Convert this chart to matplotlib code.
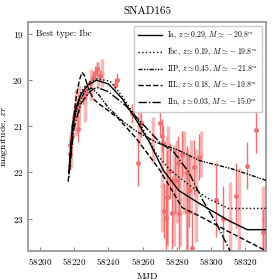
import numpy as np
import matplotlib
matplotlib.use('Agg')
import matplotlib.pyplot as plt

plt.rcParams['font.family'] = 'serif'
plt.rcParams['font.serif'] = ['cmr10', 'DejaVu Serif']
plt.rcParams['mathtext.fontset'] = 'cm'
plt.rcParams['axes.formatter.use_mathtext'] = True

# observations (thin bars with markers)
obs_t = [58217.5, 58217.8, 58218.6, 58219.2, 58220.0, 58221.5, 58222.0, 58223.0, 58225.0,
         58227.0, 58229.0, 58231.0, 58232.0, 58233.5, 58235.0, 58244.0, 58245.0, 58254.0,
         58257.0, 58259.0, 58270.0, 58271.0, 58272.0, 58272.5, 58273.5, 58274.0, 58276.0,
         58277.0, 58279.0, 58280.5, 58281.0, 58283.0, 58285.6, 58286.0, 58287.0, 58289.0,
         58290.0, 58292.6, 58303.0, 58306.6, 58314.7, 58321.0, 58326.0, 58330.0]
obs_m = [21.41, 21.60, 21.20, 20.98, 20.80, 20.65, 21.05, 20.50, 20.37,
         20.28, 20.07, 19.93, 19.85, 19.75, 19.90, 20.10, 20.00, 20.72,
         21.80, 20.93, 20.93, 21.20, 21.37, 22.83, 22.98, 22.54, 21.96,
         22.87, 22.17, 21.80, 22.87, 21.59, 22.02, 22.83, 22.39, 23.63,
         21.89, 21.66, 22.60, 23.00, 22.50, 21.85, 21.07, 23.30]
obs_e = [0.20, 0.35, 0.20, 0.25, 0.20, 0.15, 0.30, 0.20, 0.15,
         0.15, 0.10, 0.12, 0.15, 0.15, 0.12, 0.12, 0.15, 0.20,
         0.50, 0.30, 0.30, 0.35, 0.40, 0.60, 0.70, 1.00, 0.60,
         0.80, 0.70, 0.60, 0.80, 0.50, 0.60, 0.90, 0.80, 0.80,
         0.60, 0.50, 0.80, 0.70, 0.70, 0.50, 0.50, 0.50]

# observations (thick pale bars)
obs2_t = [58218, 58221, 58223, 58226, 58230, 58234, 58236, 58258, 58266, 58271, 58274,
          58275, 58278, 58280, 58282, 58284, 58286, 58288, 58291, 58294, 58311, 58316, 58330]
obs2_m = [21.5, 20.7, 20.6, 20.5, 20.1, 19.9, 19.85, 21.0, 21.3, 22.3, 22.4,
          21.8, 22.5, 22.2, 22.6, 22.0, 22.6, 22.1, 22.5, 21.6, 23.0, 22.8, 23.0]
obs2_e = [0.4, 0.5, 0.5, 0.4, 0.35, 0.3, 0.3, 0.4, 0.5, 1.0, 1.2,
          0.8, 1.1, 0.9, 1.0, 0.9, 1.1, 0.8, 1.0, 0.5, 0.8, 0.9, 0.7]

# model curves
Ia_t = [58217, 58219, 58221, 58224, 58228, 58233, 58240, 58248, 58256, 58264, 58272, 58281, 58293, 58310, 58321, 58332]
Ia_m = [21.9, 21.0, 20.6, 20.3, 20.1, 20.0, 20.08, 20.4, 20.85, 21.35, 21.95, 22.39, 22.67, 23.04, 23.24, 23.24]

Ibc_t = [58217, 58219, 58221, 58224, 58228, 58233, 58241, 58248, 58258, 58268, 58276, 58286, 58297, 58310, 58332]
Ibc_m = [22.1, 21.1, 20.6, 20.25, 20.05, 19.97, 20.02, 20.35, 20.91, 21.6, 21.95, 22.24, 22.54, 22.78, 22.78]

IIP_t = [58217, 58219, 58222, 58226, 58230, 58234, 58240, 58248, 58256, 58268, 58281, 58293, 58312, 58332]
IIP_m = [22.0, 21.0, 20.55, 20.25, 20.17, 20.3, 20.6, 20.88, 21.1, 21.35, 21.52, 21.74, 21.92, 22.17]

IIL_t = [58216.5, 58219, 58221, 58223, 58224.5, 58226, 58228, 58231, 58234, 58245, 58256, 58270, 58283, 58296, 58309, 58332]
IIL_m = [22.2, 21.0, 20.4, 20.0, 19.83, 19.9, 20.15, 20.4, 20.5, 20.8, 21.25, 21.95, 22.76, 23.0, 23.26, 23.7]

IIn_t = [58217, 58220, 58224, 58229, 58233, 58240, 58250, 58260, 58270, 58278, 58287, 58295, 58303, 58311]
IIn_m = [22.0, 21.0, 20.5, 20.25, 20.15, 20.25, 20.55, 20.95, 21.35, 21.55, 22.0, 22.6, 23.1, 23.7]

labels = [r'Ia, $z\simeq0.29$, $M\simeq-20.8^m$',
          r'Ibc, $z\simeq0.19$, $M\simeq-19.8^m$',
          r'IIP, $z\simeq0.45$, $M\simeq-21.8^m$',
          r'IIL, $z\simeq0.18$, $M\simeq-19.8^m$',
          r'IIn, $z\simeq0.03$, $M\simeq-15.0^m$']

fig = plt.figure(figsize=(2.8, 2.8), dpi=100)
ax = fig.add_axes([0.1, 0.104, 0.85, 0.817])

ax.errorbar(obs2_t, obs2_m, yerr=obs2_e, fmt='o', ms=2, color='#f4a6a6', ecolor='#f4a6a6',
            elinewidth=2.5, alpha=0.8, zorder=1)
ax.errorbar(obs_t, obs_m, yerr=obs_e, fmt='o', ms=2.5, color='#ef7070', ecolor='#ef7070',
            elinewidth=1, zorder=2)

ax.plot(Ia_t, Ia_m, '-', color='k', lw=1, label=labels[0], zorder=3)
ax.plot(Ibc_t, Ibc_m, ':', color='k', lw=1, label=labels[1], zorder=3)
ax.plot(IIP_t, IIP_m, color='k', lw=1, ls=(0, (3, 1, 1, 1, 1, 1)), label=labels[2], zorder=3)
ax.plot(IIL_t, IIL_m, '--', color='k', lw=1, label=labels[3], zorder=3)
ax.plot(IIn_t, IIn_m, color='k', lw=1, ls=(0, (6, 1.5, 1, 1.5)), label=labels[4], zorder=3)

ax.set_xlim(58193, 58332)
ax.set_ylim(23.7, 18.74)
ax.set_xticks([58200, 58220, 58240, 58260, 58280, 58300, 58320])
ax.set_yticks([19, 20, 21, 22, 23])
ax.tick_params(direction='in', labelsize=6.5, length=3, color='#888888')
for s in ax.spines.values():
    s.set_color('#999999')
    s.set_linewidth(1.3)

ax.set_xlabel('MJD', fontsize=7)
ax.set_ylabel(r'magnitude, $zr$', fontsize=7, labelpad=2)
ax.set_title('SNAD165', fontsize=8)
ax.text(0.035, 0.95, 'Best type: Ibc', transform=ax.transAxes, fontsize=6.5, va='center')

ax.legend(loc='upper right', fontsize=5.5, handlelength=3.2, labelspacing=0.6,
          borderpad=0.5, handletextpad=0.7, framealpha=1)

fig.savefig('out.png', dpi=100)
